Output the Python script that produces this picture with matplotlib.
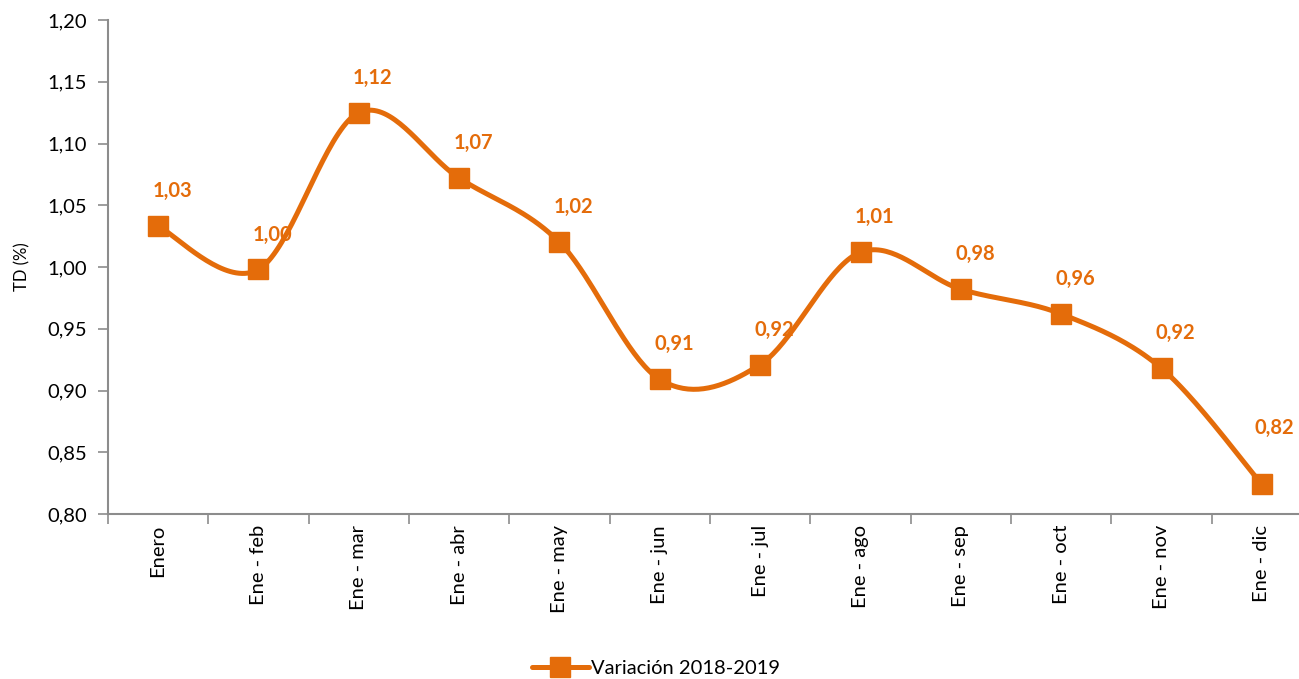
import numpy as np
import matplotlib
matplotlib.use('Agg')
import matplotlib.pyplot as plt
from matplotlib.ticker import MultipleLocator, FuncFormatter

plt.rcParams['font.family'] = ['Lato', 'DejaVu Sans']

meses = ['Enero', 'Ene - feb', 'Ene - mar', 'Ene - abr', 'Ene - may', 'Ene - jun',
         'Ene - jul', 'Ene - ago', 'Ene - sep', 'Ene - oct', 'Ene - nov', 'Ene - dic']
valores = [1.033, 0.998, 1.125, 1.072, 1.020, 0.909, 0.921, 1.012, 0.982, 0.962, 0.918, 0.824]
etiquetas = ['1,03', '1,00', '1,12', '1,07', '1,02', '0,91', '0,92', '1,01', '0,98', '0,96', '0,92', '0,82']

naranja = '#E46C0A'
gris = '#8C8C8C'


def suavizar(x, y, n=40):
    # curva tipo excel (bezier con tangentes catmull-rom)
    x = np.asarray(x, float)
    y = np.asarray(y, float)
    xs, ys = [], []
    for i in range(len(x) - 1):
        x0, y0 = (x[i - 1], y[i - 1]) if i > 0 else (x[i], y[i])
        x3, y3 = (x[i + 2], y[i + 2]) if i + 2 < len(x) else (x[i + 1], y[i + 1])
        p0 = np.array([x[i], y[i]])
        p3 = np.array([x[i + 1], y[i + 1]])
        p1 = p0 + (p3 - np.array([x0, y0])) / 6
        p2 = p3 - (np.array([x3, y3]) - p0) / 6
        t = np.linspace(0, 1, n)[:, None]
        pts = (1 - t) ** 3 * p0 + 3 * (1 - t) ** 2 * t * p1 + 3 * (1 - t) * t ** 2 * p2 + t ** 3 * p3
        xs.extend(pts[:, 0])
        ys.extend(pts[:, 1])
    return np.array(xs), np.array(ys)


fig = plt.figure(figsize=(12.99, 6.79), dpi=100)
ax = fig.add_axes([0.0831, 0.243, 0.9169, 0.7275])

x = np.arange(len(meses))
sx, sy = suavizar(x, valores)
ax.plot(sx, sy, color=naranja, linewidth=3.6, solid_capstyle='round', zorder=2)
ax.plot(x, valores, 's', color=naranja, markersize=14, zorder=3)
linea, = ax.plot([], [], color=naranja, linewidth=3.6, marker='s', markersize=14,
                 solid_capstyle='round')

for xi, v, t in zip(x, valores, etiquetas):
    dx, dy = 14, 35
    if xi == len(meses) - 1:
        dx, dy = 12, 56   # la ultima etiqueta va mas arriba
    ax.annotate(t, (xi, v), xytext=(dx, dy), textcoords='offset pixels',
                ha='center', va='center', color=naranja, fontsize=14.5,
                fontweight='bold', annotation_clip=False, zorder=4)

ax.set_xticks(x)
ax.set_xticklabels(meses, rotation=90, fontsize=14.5)
ax.set_xticks(np.arange(-0.5, 11, 1), minor=True)
ax.set_xlim(-0.5, 11.37)
ax.set_ylim(0.80, 1.20)
ax.yaxis.set_major_locator(MultipleLocator(0.05))
ax.yaxis.set_major_formatter(FuncFormatter(lambda v, p: ('%.2f' % v).replace('.', ',')))
ax.tick_params(axis='x', which='major', length=0, pad=8)
ax.tick_params(axis='x', which='minor', length=7, color=gris, width=1.2)
ax.tick_params(axis='y', length=7, color=gris, width=1.2, labelsize=14.5, pad=8)

for s in ['top', 'right']:
    ax.spines[s].set_visible(False)
for s in ['left', 'bottom']:
    ax.spines[s].set_color(gris)
    ax.spines[s].set_linewidth(1.5)

ax.set_ylabel('TD (%)', fontsize=12, labelpad=12)

fig.legend([linea], ['Variación 2018-2019'], loc='center', bbox_to_anchor=(0.505, 0.016),
           frameon=False, fontsize=14.5, handlelength=2.8, handletextpad=0.1)

fig.savefig('out.png', dpi=100)
